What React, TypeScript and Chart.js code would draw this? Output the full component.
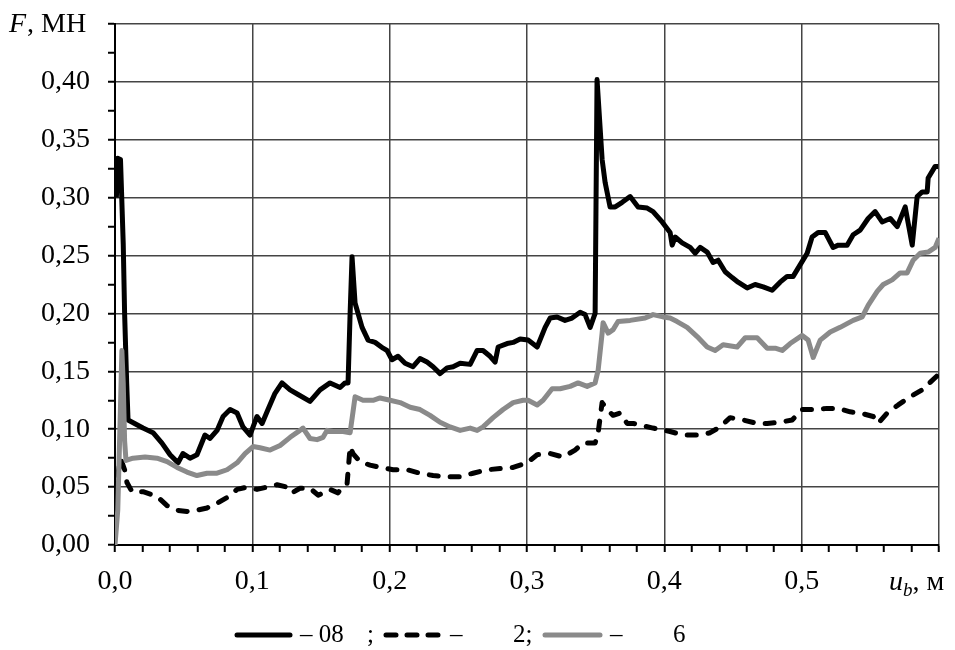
import React, { useEffect, useRef } from "react";
import { Chart, registerables } from "chart.js";

Chart.register(...registerables);

// Displacement u_b (m) and force F (MN) for each curve
const solidX = [0.001, 0.002, 0.004, 0.006, 0.007, 0.0085, 0.0095, 0.0204, 0.0277, 0.0342, 0.0401, 0.0459, 0.0495, 0.0546, 0.0597, 0.0655, 0.0692, 0.0743, 0.0787, 0.0838, 0.0889, 0.0932, 0.0983, 0.1034, 0.1071, 0.1114, 0.1165, 0.1216, 0.1275, 0.1333, 0.142, 0.1493, 0.1566, 0.1639, 0.1675, 0.1697, 0.1712, 0.1726, 0.1748, 0.1799, 0.1843, 0.1894, 0.1952, 0.1981, 0.2017, 0.2061, 0.2112, 0.217, 0.2221, 0.2272, 0.2316, 0.2367, 0.2418, 0.2462, 0.2513, 0.2586, 0.2637, 0.268, 0.2731, 0.2768, 0.279, 0.2855, 0.2899, 0.295, 0.3008, 0.3074, 0.3132, 0.3168, 0.3219, 0.3277, 0.3328, 0.3387, 0.3423, 0.346, 0.3496, 0.351, 0.3547, 0.3569, 0.3605, 0.3642, 0.3693, 0.3751, 0.3809, 0.3875, 0.3918, 0.3984, 0.4042, 0.4057, 0.4079, 0.413, 0.4188, 0.4224, 0.4261, 0.4312, 0.4355, 0.4392, 0.4443, 0.4494, 0.4537, 0.4603, 0.4661, 0.472, 0.4785, 0.4843, 0.4894, 0.4938, 0.5004, 0.504, 0.5076, 0.512, 0.5171, 0.5193, 0.5229, 0.5266, 0.5331, 0.5375, 0.5426, 0.5484, 0.5535, 0.5586, 0.5645, 0.5696, 0.5754, 0.5805, 0.5841, 0.5878, 0.5914, 0.5921, 0.5972, 0.5994];
const solidF = [0.3, 0.334, 0.333, 0.26, 0.2, 0.14, 0.108, 0.101, 0.097, 0.088, 0.078, 0.071, 0.079, 0.075, 0.078, 0.095, 0.092, 0.099, 0.111, 0.117, 0.114, 0.102, 0.095, 0.111, 0.105, 0.117, 0.131, 0.14, 0.134, 0.13, 0.124, 0.134, 0.14, 0.136, 0.14, 0.14, 0.2, 0.249, 0.209, 0.188, 0.177, 0.175, 0.17, 0.168, 0.16, 0.163, 0.157, 0.154, 0.161, 0.158, 0.154, 0.148, 0.153, 0.154, 0.157, 0.156, 0.168, 0.168, 0.163, 0.158, 0.171, 0.174, 0.175, 0.178, 0.177, 0.171, 0.188, 0.196, 0.197, 0.194, 0.196, 0.201, 0.199, 0.188, 0.2, 0.402, 0.333, 0.313, 0.292, 0.292, 0.296, 0.301, 0.292, 0.291, 0.288, 0.279, 0.27, 0.259, 0.266, 0.261, 0.257, 0.252, 0.257, 0.253, 0.244, 0.246, 0.236, 0.231, 0.227, 0.222, 0.225, 0.223, 0.22, 0.227, 0.232, 0.232, 0.245, 0.252, 0.266, 0.27, 0.27, 0.265, 0.257, 0.259, 0.259, 0.268, 0.272, 0.282, 0.288, 0.279, 0.282, 0.275, 0.292, 0.259, 0.301, 0.305, 0.305, 0.317, 0.327, 0.327];

const dashX = [0.002, 0.004, 0.007, 0.0087, 0.0124, 0.0204, 0.0306, 0.0379, 0.0452, 0.0524, 0.0597, 0.067, 0.0743, 0.0816, 0.0889, 0.0961, 0.1034, 0.1107, 0.118, 0.1253, 0.1289, 0.1347, 0.142, 0.1479, 0.1566, 0.1624, 0.1653, 0.169, 0.1712, 0.1733, 0.1784, 0.1857, 0.193, 0.2025, 0.2127, 0.2221, 0.2316, 0.2418, 0.2513, 0.2607, 0.2709, 0.2804, 0.2899, 0.3001, 0.3074, 0.3168, 0.3263, 0.335, 0.3409, 0.3496, 0.3518, 0.3547, 0.3583, 0.3627, 0.3678, 0.3729, 0.3773, 0.3918, 0.4042, 0.4137, 0.4261, 0.4334, 0.4406, 0.4479, 0.4574, 0.4676, 0.4749, 0.4843, 0.4931, 0.5004, 0.5084, 0.5186, 0.5266, 0.5353, 0.5426, 0.5521, 0.5557, 0.5623, 0.5703, 0.579, 0.5878, 0.5994];
const dashF = [0.06, 0.075, 0.065, 0.054, 0.046, 0.046, 0.042, 0.034, 0.03, 0.029, 0.03, 0.032, 0.036, 0.041, 0.048, 0.05, 0.048, 0.05, 0.052, 0.05, 0.045, 0.049, 0.049, 0.043, 0.048, 0.045, 0.05, 0.053, 0.085, 0.079, 0.072, 0.069, 0.067, 0.065, 0.065, 0.062, 0.06, 0.059, 0.059, 0.062, 0.065, 0.066, 0.067, 0.071, 0.078, 0.079, 0.076, 0.082, 0.088, 0.088, 0.097, 0.123, 0.117, 0.112, 0.114, 0.105, 0.105, 0.101, 0.098, 0.095, 0.095, 0.097, 0.102, 0.11, 0.108, 0.105, 0.105, 0.106, 0.108, 0.117, 0.117, 0.118, 0.118, 0.115, 0.114, 0.111, 0.105, 0.114, 0.121, 0.128, 0.134, 0.147];

const greyX = [0, 0.002, 0.004, 0.005, 0.006, 0.007, 0.008, 0.0131, 0.0219, 0.0306, 0.0379, 0.0452, 0.0524, 0.0597, 0.067, 0.0743, 0.0816, 0.0889, 0.0947, 0.1005, 0.1056, 0.1129, 0.1202, 0.1275, 0.1347, 0.1369, 0.142, 0.1471, 0.1515, 0.1544, 0.1588, 0.1661, 0.1712, 0.1733, 0.1748, 0.1806, 0.1879, 0.193, 0.2003, 0.2076, 0.2149, 0.2221, 0.2294, 0.2367, 0.244, 0.2513, 0.2586, 0.2637, 0.268, 0.2753, 0.2826, 0.2899, 0.2972, 0.3008, 0.3074, 0.3117, 0.3183, 0.3241, 0.3314, 0.3372, 0.3438, 0.3496, 0.3518, 0.3547, 0.3554, 0.3591, 0.3627, 0.3663, 0.3751, 0.386, 0.3918, 0.3991, 0.4042, 0.4093, 0.4166, 0.4239, 0.4312, 0.437, 0.4428, 0.453, 0.4589, 0.4676, 0.4749, 0.4807, 0.4858, 0.4916, 0.5004, 0.5047, 0.5084, 0.5135, 0.5208, 0.528, 0.5375, 0.5441, 0.5484, 0.555, 0.5594, 0.5659, 0.5717, 0.5768, 0.5812, 0.5863, 0.5921, 0.5972, 0.6];
const greyF = [0, 0.03, 0.12, 0.168, 0.14, 0.09, 0.073, 0.075, 0.076, 0.075, 0.072, 0.067, 0.063, 0.06, 0.062, 0.062, 0.065, 0.071, 0.079, 0.085, 0.084, 0.082, 0.086, 0.093, 0.099, 0.101, 0.092, 0.091, 0.093, 0.099, 0.098, 0.098, 0.097, 0.115, 0.128, 0.125, 0.125, 0.127, 0.125, 0.123, 0.119, 0.117, 0.112, 0.106, 0.102, 0.099, 0.101, 0.099, 0.102, 0.11, 0.117, 0.123, 0.125, 0.125, 0.121, 0.125, 0.135, 0.135, 0.137, 0.14, 0.137, 0.14, 0.151, 0.183, 0.192, 0.183, 0.186, 0.193, 0.194, 0.196, 0.199, 0.197, 0.196, 0.193, 0.188, 0.18, 0.171, 0.168, 0.173, 0.171, 0.179, 0.179, 0.17, 0.17, 0.168, 0.174, 0.181, 0.177, 0.162, 0.177, 0.184, 0.188, 0.194, 0.197, 0.207, 0.219, 0.225, 0.229, 0.235, 0.235, 0.246, 0.252, 0.253, 0.257, 0.265];

// Axis ticks: minor marks every 0.02 m / 0.025 MN, labelled majors
const xTicks = Array.from({ length: 31 }, (_, i) => i / 50);
const yTicks = Array.from({ length: 19 }, (_, i) => i / 40);
const xLabels = ["0,0", "0,1", "0,2", "0,3", "0,4", "0,5"];
const yLabels = ["0,00", "0,05", "0,10", "0,15", "0,20", "0,25", "0,30", "0,35", "0,40"];

const SERIF = "'Liberation Serif', 'Times New Roman', serif";
const GREY = "#8a8a8a";

const toPoints = (xs: number[], ys: number[]) => xs.map((x, i) => ({ x, y: ys[i] }));

const xLabelAt = (v: number) => {
  const k = Math.round(v * 50);
  return k % 5 === 0 && k / 5 < xLabels.length ? xLabels[k / 5] : "";
};
const yLabelAt = (v: number) => {
  const k = Math.round(v * 40);
  return k % 2 === 0 && k / 2 < yLabels.length ? yLabels[k / 2] : "";
};
const xMajor = (v: number) => Math.round(v * 50) % 5 === 0;
const yMajor = (v: number) => Math.round(v * 40) % 2 === 0;

const annotations = {
  id: "annotations",
  afterDraw(chart: any) {
    const ctx = chart.ctx as CanvasRenderingContext2D;
    ctx.save();
    ctx.fillStyle = "#000";
    ctx.textBaseline = "alphabetic";
    ctx.textAlign = "left";

    // y-axis title
    ctx.font = `italic 28px ${SERIF}`;
    ctx.fillText("F", 1, 24);
    const w = ctx.measureText("F").width;
    ctx.font = `28px ${SERIF}`;
    ctx.fillText(", МН", 1 + w + 1, 24);

    // x-axis title
    let x = 881;
    const base = 582;
    ctx.font = `italic 28px ${SERIF}`;
    ctx.fillText("u", x, base);
    x += ctx.measureText("u").width;
    ctx.font = `italic 19px ${SERIF}`;
    ctx.fillText("b", x, base + 6);
    x += ctx.measureText("b").width;
    ctx.font = `28px ${SERIF}`;
    ctx.fillText(", м", x, base);

    // legend
    const ly = 627;
    const ty = 634;
    ctx.lineWidth = 5;
    ctx.lineCap = "round";
    ctx.strokeStyle = "#000";
    ctx.beginPath();
    ctx.moveTo(229, ly);
    ctx.lineTo(282, ly);
    ctx.stroke();

    ctx.setLineDash([10, 11]);
    ctx.beginPath();
    ctx.moveTo(378, ly);
    ctx.lineTo(432, ly);
    ctx.stroke();
    ctx.setLineDash([]);

    ctx.strokeStyle = GREY;
    ctx.beginPath();
    ctx.moveTo(537, ly);
    ctx.lineTo(592, ly);
    ctx.stroke();

    ctx.font = `25px ${SERIF}`;
    ctx.fillText("– 08", 292, ty);
    ctx.fillText(";", 359, ty);
    ctx.fillText("–", 442, ty);
    ctx.fillText("2;", 505, ty);
    ctx.fillText("–", 602, ty);
    ctx.fillText("6", 665, ty);
    ctx.restore();
  },
};

const noEdgePadding = (scale: any) => {
  scale.paddingTop = 0;
  scale.paddingBottom = 0;
  scale.paddingLeft = 0;
  scale.paddingRight = 0;
};

export default function App() {
  const ref = useRef<HTMLCanvasElement | null>(null);

  useEffect(() => {
    if (!ref.current) return;
    const chart = new Chart(ref.current, {
      type: "line",
      data: {
        datasets: [
          {
            label: "08",
            data: toPoints(solidX, solidF),
            borderColor: "#000",
            borderWidth: 5,
            order: 2,
          },
          {
            label: "2",
            data: toPoints(dashX, dashF),
            borderColor: "#000",
            borderWidth: 5,
            borderDash: [9, 12],
            borderCapStyle: "round",
            order: 1,
          },
          {
            label: "6",
            data: toPoints(greyX, greyF),
            borderColor: GREY,
            borderWidth: 5,
            order: 0,
          },
        ],
      },
      options: {
        responsive: false,
        animation: false,
        events: [],
        layout: { padding: { top: 16, right: 8, left: 0, bottom: 0 } },
        elements: {
          point: { radius: 0 },
          line: { tension: 0, borderJoinStyle: "round", fill: false },
        },
        plugins: { legend: { display: false }, tooltip: { enabled: false } },
        scales: {
          x: {
            type: "linear",
            min: 0,
            max: 0.6,
            afterBuildTicks: (scale: any) => {
              scale.ticks = xTicks.map((value) => ({ value }));
            },
            afterFit: (scale: any) => {
              scale.height = 105;
              noEdgePadding(scale);
            },
            border: { display: true, color: "#000", width: 2 },
            grid: {
              color: (c: any) => (xMajor(c.tick.value) ? "#444" : "rgba(0,0,0,0)"),
              lineWidth: 1.5,
              drawTicks: true,
              tickLength: 7,
              tickColor: "#000",
              tickWidth: 2,
            },
            ticks: {
              autoSkip: false,
              maxRotation: 0,
              padding: 13,
              color: "#000",
              font: { family: SERIF, size: 28 },
              callback: (v: any) => xLabelAt(Number(v)),
            },
          },
          y: {
            type: "linear",
            min: 0,
            max: 0.45,
            afterBuildTicks: (scale: any) => {
              scale.ticks = yTicks.map((value) => ({ value }));
            },
            afterFit: (scale: any) => {
              scale.width = 107;
              noEdgePadding(scale);
            },
            border: { display: true, color: "#000", width: 2 },
            grid: {
              color: (c: any) => (yMajor(c.tick.value) ? "#444" : "rgba(0,0,0,0)"),
              lineWidth: 1.5,
              drawTicks: true,
              tickLength: 7,
              tickColor: "#000",
              tickWidth: 2,
            },
            ticks: {
              autoSkip: false,
              padding: 18,
              color: "#000",
              font: { family: SERIF, size: 28 },
              callback: (v: any) => yLabelAt(Number(v)),
            },
          },
        },
      },
      plugins: [annotations],
    });
    return () => chart.destroy();
  }, []);

  return (
    <div style={{ width: 939, height: 642 }}>
      <canvas ref={ref} width={939} height={642} style={{ display: "block" }} />
    </div>
  );
}
